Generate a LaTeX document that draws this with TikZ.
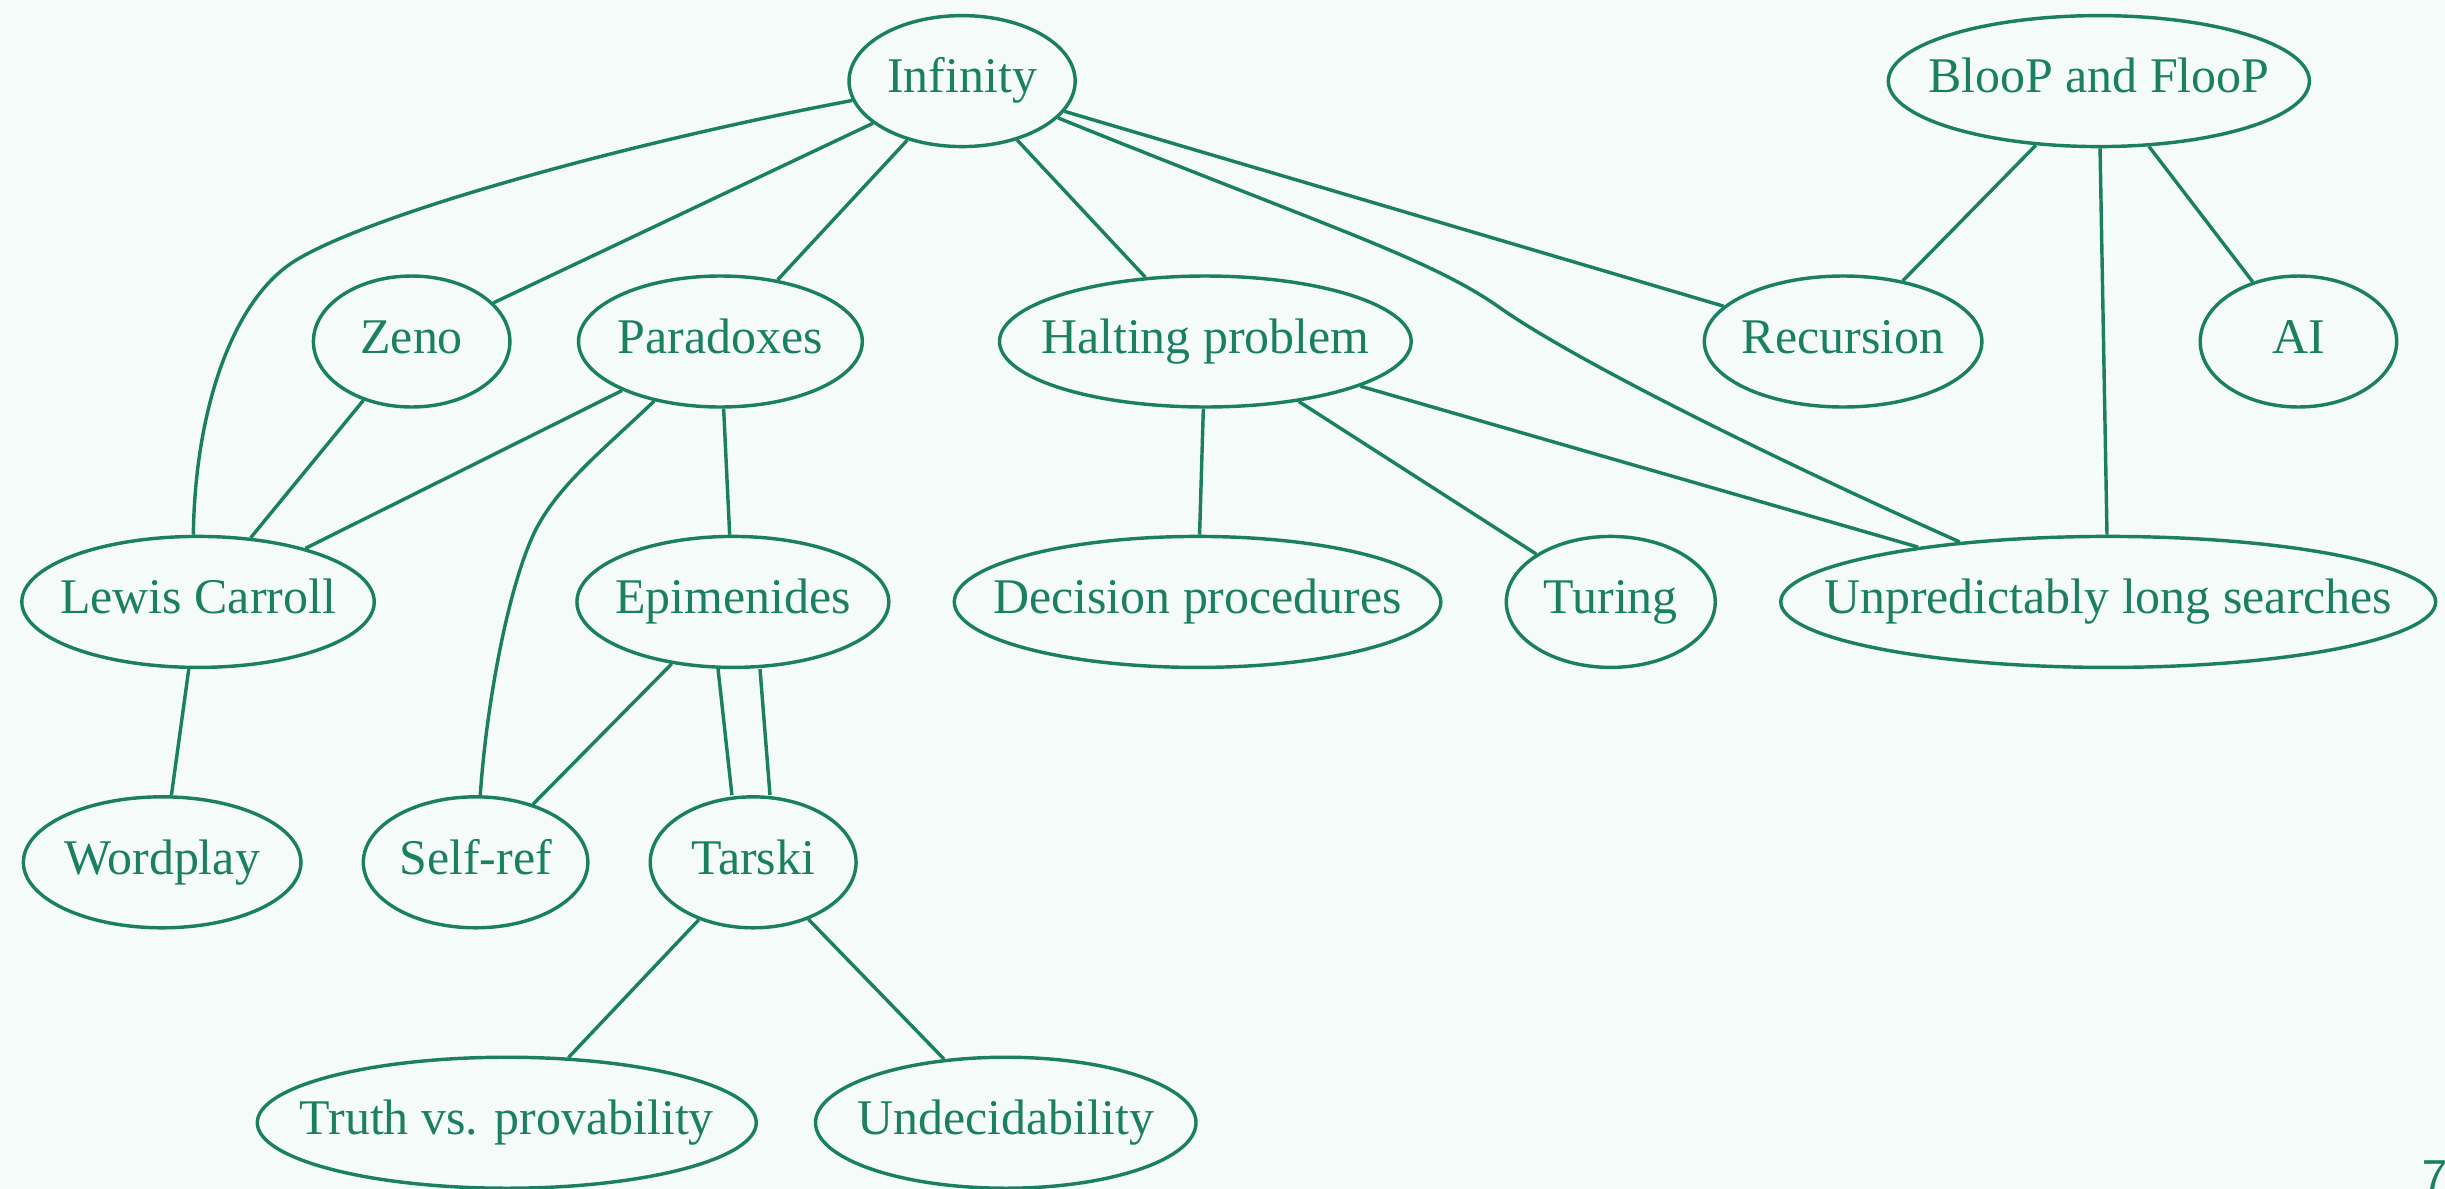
\documentclass[tikz,border=0pt]{standalone}
\usepackage{fontspec}
\setmainfont{Liberation Serif}
\usetikzlibrary{shapes.geometric}
\definecolor{ink}{RGB}{27,127,98}
\definecolor{bg}{RGB}{245,251,248}
\newcommand\ztxt[1]{\makebox[0pt]{#1}}
\begin{document}
\begin{tikzpicture}[x=0.5pt,y=-0.5pt,
  nd/.style={ellipse, draw=ink, line width=1.1pt, text=ink, inner sep=0pt,
    minimum height=42pt, text height=11pt, text depth=3.5pt,
    font=\fontsize{16}{19}\selectfont},
  ed/.style={draw=ink, line width=1.1pt}]
\fill[bg] (0,0) rectangle (1568,762.5);
\useasboundingbox (0,0) rectangle (1568,762.5);

\node[nd, minimum width=72.5pt] (inf) at (617,52) {\ztxt{Infinity}};
\node[nd, minimum width=135pt] (bloop) at (1346,52) {\ztxt{BlooP and FlooP}};
\node[nd, minimum width=63pt] (zeno) at (264,219) {\ztxt{Zeno}};
\node[nd, minimum width=91pt] (para) at (462,219) {\ztxt{Paradoxes}};
\node[nd, minimum width=132pt] (halt) at (773,219) {\ztxt{Halting problem}};
\node[nd, minimum width=89pt] (rec) at (1182,219) {\ztxt{Recursion}};
\node[nd, minimum width=63pt] (ai) at (1474,219) {\ztxt{AI}};
\node[nd, minimum width=113pt] (lc) at (127,386) {\ztxt{Lewis Carroll}};
\node[nd, minimum width=100pt] (epi) at (470,386) {\ztxt{Epimenides}};
\node[nd, minimum width=156pt] (dec) at (768,386) {\ztxt{Decision procedures}};
\node[nd, minimum width=67pt] (tur) at (1033,386) {\ztxt{Turing}};
\node[nd, minimum width=210pt] (uls) at (1352,386) {\ztxt{Unpredictably long searches}};
\node[nd, minimum width=89pt] (word) at (104,553) {\ztxt{Wordplay}};
\node[nd, minimum width=72pt] (self) at (305,553) {\ztxt{Self-ref}};
\node[nd, minimum width=66pt] (tar) at (483,553) {\ztxt{Tarski}};
\node[nd, minimum width=160pt] (truth) at (325,720) {\ztxt{Truth vs. provability}};
\node[nd, minimum width=122pt] (und) at (645,720) {\ztxt{Undecidability}};

\node[anchor=north west, inner sep=0pt, text=ink, font=\sffamily\fontsize{17}{20}\selectfont] (pg) at (1553,744) {7};

\draw[ed] (inf.190) .. controls (400,92) and (235,138) .. (188,168) .. controls (148,194) and (125,265) .. (lc.94);
\draw[ed] (inf) -- (zeno);
\draw[ed] (inf) -- (para);
\draw[ed] (inf) -- (halt);
\draw[ed] (inf) -- (rec);
\draw[ed] (inf.-21) .. controls (850,145) and (915,165) .. (960,196) .. controls (1010,232) and (1150,300) .. (uls.158);
\draw[ed] (bloop) -- (rec);
\draw[ed] (bloop) -- (uls);
\draw[ed] (bloop) -- (ai);
\draw[ed] (zeno) -- (lc);
\draw[ed] (para) -- (lc);
\draw[ed] (para.-138) .. controls (385,290) and (360,310) .. (345,337) .. controls (327,370) and (312,450) .. (self.86);
\draw[ed] (para) -- (epi);
\draw[ed] (halt) -- (dec);
\draw[ed] (halt) -- (tur);
\draw[ed] (halt) -- (uls);
\draw[ed] (lc) -- (word);
\draw[ed] (epi) -- (self);
\draw[ed] ([xshift=-4.75pt]epi.south) -- ([xshift=-6.8pt]tar.north);
\draw[ed] ([xshift=8.7pt]epi.south) -- ([xshift=5.4pt]tar.north);
\draw[ed] (tar) -- (truth);
\draw[ed] (tar) -- (und);
\end{tikzpicture}
\end{document}
